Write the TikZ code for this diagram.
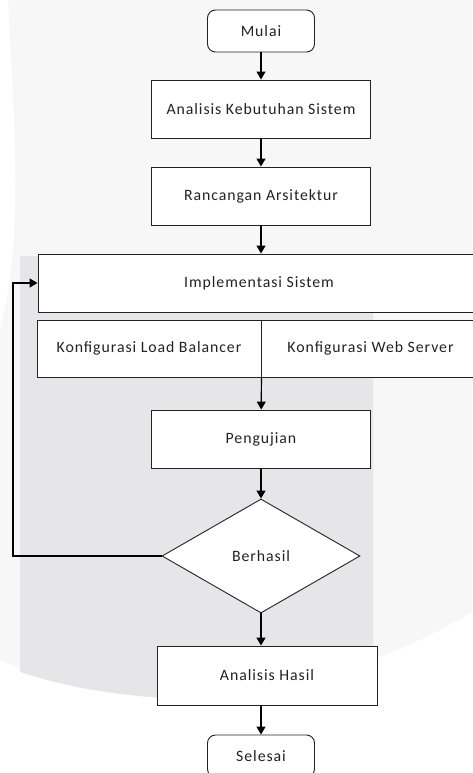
\documentclass[tikz,border=0pt]{standalone}
\usepackage{fontspec}
\setmainfont{Carlito}[LetterSpace=6]
\usetikzlibrary{shapes.geometric,arrows.meta,positioning}

\definecolor{wmlight}{HTML}{F7F7F8}
\definecolor{wmdark}{HTML}{E6E6E8}
\definecolor{ink}{HTML}{222222}

\tikzset{
  box/.style={draw=ink, line width=0.9pt, fill=white, text=ink, minimum width=219pt, minimum height=58pt, inner sep=0pt},
  terminal/.style={box, rounded corners=8pt, minimum width=107pt, minimum height=42pt},
  decision/.style={draw=ink, line width=0.9pt, fill=white, text=ink, diamond, aspect=1.74, minimum width=198pt, minimum height=114pt, inner sep=0pt},
  flow/.style={draw=black, line width=1.2pt, -{Triangle[width=9pt,length=8pt]}}
}

\begin{document}
\begin{tikzpicture}[x=1pt, y=-1pt, font=\fontsize{15.8pt}{18pt}\selectfont]
        \useasboundingbox (0,0) rectangle (472,773);

        % watermark in the back
        \fill[wmlight] (8,0) .. controls (14,120) and (24,240) .. (0,330) -- (0,660)
            .. controls (120,710) and (300,715) .. (472,612) -- (472,0) -- cycle;
        \fill[wmdark] (20,256) -- (373,256) -- (373,675)
            .. controls (260,710) and (120,705) .. (20,672) -- cycle;

        % the steps
        \node[terminal] (mulai) at (261,31) {Mulai};
        \node[box] (analisis) at (261,109) {Analisis Kebutuhan Sistem};
        \node[box] (rancangan) at (261,196) {Rancangan Arsitektur};
        \node[box, minimum width=442pt] (implementasi) at (259,283) {Implementasi Sistem};
        \node[box, minimum width=224pt, minimum height=57pt] (konfiglb) at (149,348.5) {Konfigurasi Load Balancer};
        \node[box, minimum width=219pt, minimum height=57pt] (konfigws) at (370.5,348.5) {Konfigurasi Web Server};
        \node[box] (pengujian) at (261,439) {Pengujian};
        \node[decision] (berhasil) at (261,556) {Berhasil};
        \node[box, minimum width=220pt, minimum height=59pt] (hasil) at (267,675.5) {Analisis Hasil};
        \node[terminal] (selesai) at (261,756) {Selesai};

        % the arrows
        \draw[flow] (mulai) -- (analisis);
        \draw[flow] (analisis) -- (rancangan);
        \draw[flow] (rancangan) -- (rancangan |- implementasi.north);
        \draw[flow] (konfiglb.south east) -- (pengujian);
        \draw[flow] (pengujian) -- (berhasil);
        \draw[flow] (berhasil.south) -- (berhasil.south |- hasil.north);
        \draw[flow] (selesai.north |- hasil.south) -- (selesai.north);

        % back to implementasi
        \coordinate (ulang) at (13,556);
        \draw[flow] (berhasil.west) -- (ulang) |- (implementasi.west);
    \end{tikzpicture}
\end{document}
